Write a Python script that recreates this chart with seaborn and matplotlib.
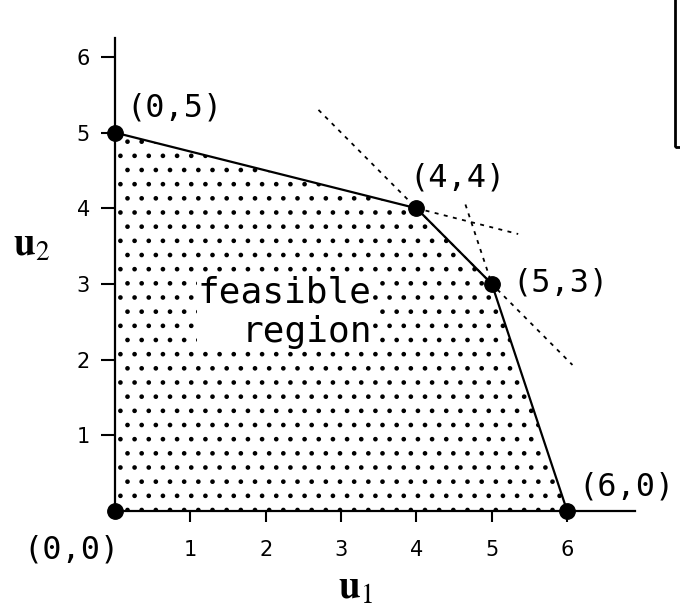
import matplotlib
matplotlib.use('Agg')
import matplotlib.pyplot as plt
from matplotlib.patches import Rectangle
import seaborn as sns

# the figure is drawn at 85 dpi so that the '.' hatch gets the stipple density
DPI = 85
K = 100 / DPI   # sizes below were worked out for 100 dpi

sns.set_style('ticks')
plt.rcParams['font.family'] = ['DejaVu Sans']
plt.rcParams['mathtext.fontset'] = 'stix'
plt.rcParams['hatch.linewidth'] = 1.5
plt.rcParams['hatch.color'] = 'black'
for k in ['text.color', 'axes.labelcolor', 'xtick.color', 'ytick.color']:
    plt.rcParams[k] = 'black'

# feasible region corners
region_u1 = [0, 0, 4, 5, 6]
region_u2 = [0, 5, 4, 3, 0]

# upper boundary (frontier)
frontier_u1 = [0, 4, 5, 6]
frontier_u2 = [5, 4, 3, 0]

# labelled corner points
point_u1 = [0, 0, 4, 5, 6]
point_u2 = [0, 5, 4, 3, 0]
point_labels = ['(0,0)', '(0,5)', '(4,4)', '(5,3)', '(6,0)']

# dotted supporting lines (endpoints)
line_a_u1 = [2.70, 6.07]
line_a_u2 = [5.30, 1.93]
line_b_u1 = [4.0, 5.35]
line_b_u2 = [4.0, 3.66]
line_c_u1 = [4.65, 5.0]
line_c_u2 = [4.05, 3.0]

ticks = [1, 2, 3, 4, 5, 6]

mono = 'DejaVu Sans Mono'

fig = plt.figure(figsize=(680 / DPI, 608 / DPI), dpi=DPI)
ax = fig.add_axes([115/680, 97/608, 520/680, 473/608])

ax.fill(region_u1, region_u2, facecolor='white', edgecolor='black',
        hatch='.', linewidth=0, zorder=1)

sns.lineplot(x=frontier_u1, y=frontier_u2, sort=False, estimator=None,
             color='black', linewidth=1.6 * K, ax=ax, zorder=3)

for xs, ys in [(line_a_u1, line_a_u2), (line_b_u1, line_b_u2), (line_c_u1, line_c_u2)]:
    ax.plot(xs, ys, color='black', linewidth=1.3 * K, linestyle=(0, (2.2, 3)), zorder=2)

sns.scatterplot(x=point_u1, y=point_u2, color='black', s=125 * K * K, edgecolor='black',
                ax=ax, zorder=5, clip_on=False)

# label offsets (points at 100 dpi) and alignment
offsets = {'(0,0)': (3, -28, 'right'), '(0,5)': (8, 18, 'left'),
           '(4,4)': (-5, 22, 'left'), '(5,3)': (15, 1, 'left'),
           '(6,0)': (8, 17, 'left')}
for x, y, lab in zip(point_u1, point_u2, point_labels):
    dx, dy, ha = offsets[lab]
    ax.annotate(lab, (x, y), xytext=(dx * K, dy * K), textcoords='offset points',
                ha=ha, va='center', fontsize=23 * K, family=mono,
                annotation_clip=False)

ax.text(3.41, 2.63, 'feasible\nregion', ha='right', va='center',
        multialignment='right', fontsize=26 * K, family=mono,
        linespacing=1.2, zorder=4,
        bbox=dict(facecolor='white', edgecolor='none', pad=1))

ax.set_xlim(0, 6.9)
ax.set_ylim(0, 6.25)
ax.set_xticks(ticks)
ax.set_yticks(ticks)
ax.set_xticklabels([str(t) for t in ticks])
ax.set_yticklabels([str(t) for t in ticks])
ax.tick_params(axis='x', length=8 * K, width=1.5 * K, pad=13 * K, labelsize=15 * K)
ax.tick_params(axis='y', length=10 * K, width=1.5 * K, pad=8 * K, labelsize=15 * K)

for s in ['top', 'right']:
    ax.spines[s].set_visible(False)
for s in ['left', 'bottom']:
    ax.spines[s].set_linewidth(1.6 * K)
    ax.spines[s].set_color('black')

ax.text(0.4615, -0.163, r'$\mathbf{u}_{1}$', transform=ax.transAxes,
        ha='center', va='center', fontsize=28 * K)
ax.text(-0.16, 0.562, r'$\mathbf{u}_{2}$', transform=ax.transAxes,
        ha='center', va='center', fontsize=28 * K)

# partial box at the top right edge
fig.add_artist(Rectangle((675/680, 1 - 147/608), 0.2, 0.5, transform=fig.transFigure,
                         fill=False, edgecolor='black', linewidth=2 * K, clip_on=False))

fig.savefig('out.png', dpi=DPI)
